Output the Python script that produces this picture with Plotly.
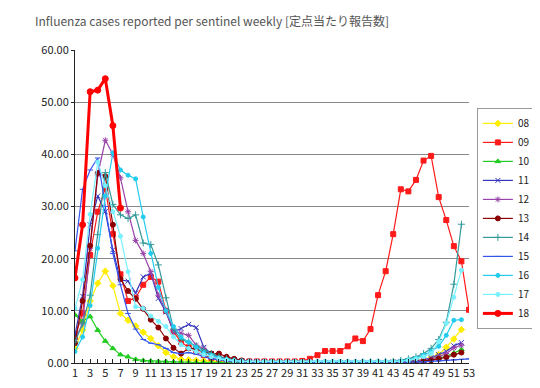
import plotly.graph_objects as go

weeks = list(range(1, 54))
tick_weeks = list(range(1, 54, 2))

s08 = [2.8, 6.3, 11.9, 15.3, 17.6, 14.8, 9.5, 8.2, 7.1, 5.9, 4.7, 3.3, 2.0, 1.2, 0.7, 0.6, 0.5, 0.4, 0.3, 0.3,
       0.2, 0.2, 0.1, 0.1, 0.1, 0.1, 0.1, 0.1, 0.1, 0.1, 0.1, 0.1, 0.1, 0.1, 0.1, 0.1, 0.1, 0.1, 0.1, 0.1, 0.1, 0.1, 0.2, 0.2,
       0.3, 0.4, 0.6, 1.0, 1.6, 3.0, 4.6, 6.4]
s09 = [5.0, 9.5, 20.7, 29.0, 33.5, 24.7, 17.0, 11.9, 12.5, 15.0, 16.5, 15.6, 10.0, 6.0, 4.0, 3.0, 2.2, 1.5, 1.0, 0.8,
       0.5, 0.4, 0.3, 0.3, 0.3, 0.3, 0.3, 0.3, 0.3, 0.3,
       0.4, 0.8, 1.5, 2.3, 2.3, 2.3, 3.2, 4.7, 4.2, 6.5, 13.0, 17.6, 24.7, 33.3, 32.9, 35.1, 38.8, 39.7, 31.8, 27.4, 22.4, 19.5, 10.2]
s10 = [9.2, 8.0, 8.9, 6.3, 4.2, 2.8, 1.6, 1.2, 0.7, 0.5, 0.4, 0.3, 0.3, 0.2, 0.2, 0.1, 0.1, 0.1, 0.1, 0.1,
       0.1, 0.1, 0.1, 0.1, 0.1, 0.1, 0.1, 0.1, 0.1, 0.1, 0.1, 0.1, 0.1, 0.1, 0.1, 0.1, 0.1, 0.1, 0.1, 0.1, 0.1, 0.1, 0.1, 0.1,
       0.2, 0.3, 0.4, 0.6, 0.9, 1.3, 1.9, 2.6]
s11 = [5.4, 12.8, 26.5, 32.0, 29.0, 21.7, 15.9, 15.7, 13.4, 16.5, 17.2, 12.4, 9.8, 6.0, 6.6, 7.4, 6.8, 3.0, 1.8, 1.2,
       0.8, 0.6, 0.4, 0.3, 0.2, 0.2, 0.1, 0.1, 0.1, 0.1, 0.1, 0.1, 0.1, 0.1, 0.1, 0.1, 0.1, 0.1, 0.1, 0.1, 0.1, 0.1, 0.2, 0.2,
       0.3, 0.4, 0.6, 1.0, 1.6, 2.2, 3.3, 3.9]
s12 = [4.5, 7.5, 22.0, 36.0, 42.7, 40.0, 35.5, 29.0, 23.5, 21.0, 17.5, 13.0, 10.1, 6.0, 5.7, 5.3, 3.4, 2.8, 1.2, 0.8,
       0.5, 0.3, 0.2, 0.2, 0.1, 0.1, 0.1, 0.1, 0.1, 0.1, 0.1, 0.1, 0.1, 0.1, 0.1, 0.1, 0.1, 0.1, 0.1, 0.1, 0.1, 0.1, 0.1, 0.1,
       0.2, 0.3, 0.5, 0.8, 1.2, 1.8, 2.9, 3.4]
s13 = [3.8, 11.9, 22.5, 36.4, 35.8, 26.5, 16.1, 13.8, 12.3, 10.4, 8.3, 6.8, 4.7, 2.9, 1.8, 2.8, 2.8, 2.0, 1.8, 1.8,
       1.2, 0.8, 0.5, 0.3, 0.2, 0.2, 0.1, 0.1, 0.1, 0.1, 0.1, 0.1, 0.1, 0.1, 0.1, 0.1, 0.1, 0.1, 0.1, 0.1, 0.1, 0.1, 0.1, 0.1,
       0.1, 0.2, 0.3, 0.5, 0.8, 1.1, 1.6, 2.0]
s14 = [4.0, 7.5, 13.0, 24.6, 36.5, 30.4, 28.4, 27.7, 28.4, 23.0, 22.7, 18.8, 12.5, 6.5, 4.5, 4.0, 3.2, 2.5, 1.8, 1.2,
       0.8, 0.5, 0.3, 0.2, 0.1, 0.1, 0.1, 0.1, 0.1, 0.1, 0.1, 0.1, 0.1, 0.1, 0.1, 0.1, 0.1, 0.1, 0.2, 0.2, 0.2, 0.3, 0.3, 0.5,
       0.8, 1.2, 1.8, 2.8, 4.5, 7.8, 15.1, 26.6]
s15 = [21.5, 33.3, 37.0, 39.3, 30.0, 21.0, 15.0, 9.5, 6.5, 4.5, 3.8, 3.5, 2.8, 2.0, 1.8, 2.0, 1.7, 1.2, 0.8, 0.6,
       0.4, 0.3, 0.2, 0.2, 0.1, 0.1, 0.1, 0.1, 0.1, 0.1, 0.1, 0.1, 0.1, 0.1, 0.1, 0.1, 0.1, 0.1, 0.1, 0.1, 0.1, 0.1, 0.1, 0.1,
       0.1, 0.2, 0.2, 0.3, 0.4, 0.5, 0.6, 0.7, 0.8]
s16 = [2.2, 5.0, 11.0, 22.0, 32.0, 40.3, 37.0, 36.0, 35.3, 28.0, 21.0, 14.5, 10.0, 7.0, 5.0, 4.0, 3.0, 2.0, 1.5, 1.0,
       0.7, 0.5, 0.4, 0.3, 0.3, 0.3, 0.3, 0.3, 0.3, 0.3, 0.3, 0.3, 0.3, 0.3, 0.3, 0.3, 0.3, 0.3, 0.3, 0.3, 0.3, 0.3, 0.3, 0.4,
       0.6, 0.9, 1.5, 2.2, 3.2, 5.3, 8.2, 8.3]
s17 = [10.5, 16.0, 28.5, 38.5, 34.0, 29.0, 24.3, 17.5, 10.8, 10.5, 9.0, 8.0, 7.0, 5.0, 3.5, 2.8, 2.2, 1.6, 1.2, 0.8,
       0.6, 0.4, 0.3, 0.3, 0.3, 0.3, 0.3, 0.3, 0.3, 0.3, 0.3, 0.3, 0.3, 0.3, 0.3, 0.3, 0.3, 0.3, 0.3, 0.3, 0.3, 0.3, 0.3, 0.3,
       0.5, 0.8, 1.2, 1.8, 4.1, 7.6, 12.6, 17.8]
s18 = [16.3, 26.5, 52.0, 52.3, 54.5, 45.5, 29.7]

series = [
    ("08", s08, "#FFEE00", "diamond", 1.2, 5),
    ("09", s09, "#FF1A1A", "square", 1.2, 5),
    ("10", s10, "#22CC22", "triangle-up", 1.2, 5),
    ("11", s11, "#3333BB", "x-thin-open", 1.2, 5),
    ("12", s12, "#9944AA", "asterisk-open", 1.2, 5),
    ("13", s13, "#8B0000", "circle", 1.2, 5),
    ("14", s14, "#339999", "cross-thin-open", 1.2, 5),
    ("15", s15, "#3355EE", "line-ew-open", 1.2, 4),
    ("16", s16, "#22CCEE", "circle", 1.2, 4),
    ("17", s17, "#77F0FF", "circle", 1.2, 4),
    ("18", s18, "#FF0000", "circle", 3, 6),
]

fig = go.Figure()
for name, vals, color, sym, lw, ms in series:
    fig.add_trace(go.Scatter(
        x=weeks[:len(vals)], y=vals, name=name, mode="lines+markers",
        line=dict(color=color, width=lw),
        marker=dict(color=color, symbol=sym, size=ms, line=dict(color=color, width=1)),
    ))

fig.update_layout(
    width=540, height=388,
    margin=dict(l=67, r=63, t=42, b=33),
    paper_bgcolor="white", plot_bgcolor="white",
    font=dict(family="Noto Sans CJK JP, Noto Sans, sans-serif", size=11, color="#222"),
    title=dict(text="Influenza cases reported per sentinel weekly [定点当たり報告数]",
               x=0.05, xanchor="left", y=0.975, yanchor="top",
               font=dict(size=12, color="#555")),
    showlegend=True,
    legend=dict(x=1.02, xanchor="left", y=0.815, yanchor="top",
                bordercolor="#999", borderwidth=1, bgcolor="white",
                font=dict(size=10, color="#222"), itemwidth=30,
                tracegroupgap=0),
)
fig.update_xaxes(
    range=[1, 53], tickvals=tick_weeks, ticktext=[str(w) for w in tick_weeks],
    showgrid=False, zeroline=False, showline=True, linecolor="#222", linewidth=1,
    ticks="inside", ticklen=4, tickcolor="#222",
    minor=dict(tickvals=weeks, ticks="inside", ticklen=4, tickcolor="#222"),
    mirror=False,
)
fig.update_yaxes(
    range=[0, 60], dtick=10, tickformat=".2f",
    showgrid=True, gridcolor="#888", gridwidth=1, zeroline=False,
    showline=True, linecolor="#222", linewidth=1,
    ticks="outside", ticklen=3, tickcolor="#222",
)
fig.write_html("out.html")
